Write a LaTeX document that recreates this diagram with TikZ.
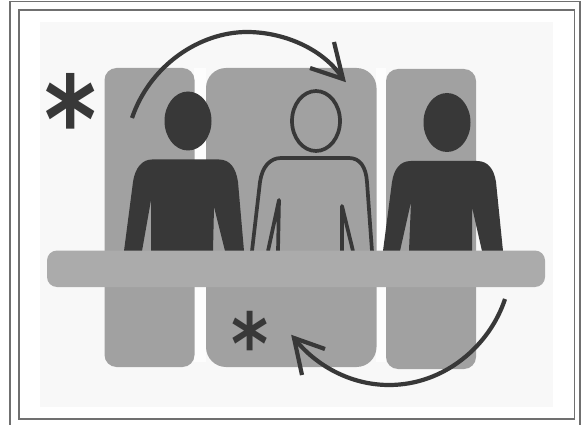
\documentclass[tikz,border=0pt]{standalone}
\usepackage{fontspec}
\newfontfamily\astfont{DejaVu Sans Bold}
\definecolor{ink}{HTML}{383838}
\definecolor{panel}{HTML}{A1A1A1}
\definecolor{tabletop}{HTML}{ABABAB}
\definecolor{paper}{HTML}{F8F8F8}
\definecolor{gapc}{HTML}{FDFDFD}
\definecolor{framec}{HTML}{707070}
\tikzset{
  framebox/.style={draw=framec,line width=1.5pt},
  panelbox/.style={fill=panel},
  solidfig/.style={fill=ink},
  hollowfig/.style={draw=ink,line width=3.7pt,line join=round},
  turnarrow/.style={draw=ink,line width=4.2pt,line join=miter},
  starlabel/.style={text=ink,inner sep=0pt,font=\astfont,yscale=1.2}
}
\begin{document}
\begin{tikzpicture}[x=1pt,y=-1pt]
\useasboundingbox (0,0) rectangle (584,425);
\fill[white] (0,0) rectangle (584,425);
% frames
\draw[framebox] (10,425) -- (10,1.5) -- (580,1.5) -- (580,425);
\draw[framebox] (19,10) rectangle (574.5,419);
% ground
\fill[paper] (40,22) rectangle (553,407);
\fill[gapc] (194,68) rectangle (206,362);
\fill[gapc] (376,68) rectangle (386,362);
% panels
\fill[panelbox,rounded corners=12pt] (104.5,68) rectangle (194.5,367);
\fill[panelbox,rounded corners=20pt] (206,68) rectangle (376.5,367);
\fill[panelbox,rounded corners=12pt] (386,69) rectangle (476,369);
% heads
\fill[solidfig] (188,121) ellipse [x radius=23.5,y radius=29.5];
\draw[hollowfig] (316,121) ellipse [x radius=24,y radius=30];
\fill[solidfig] (447,122.5) ellipse [x radius=23.5,y radius=29.5];
% left body
\fill[solidfig] (124,251) -- (133,182) .. controls (135,168) and (142,159.5) .. (152,159.5)
  -- (219,159.5) .. controls (230,159.5) and (236,168) .. (238,182)
  -- (244,251) -- (225,251) -- (214,207) -- (213,251) -- (151,251) -- (151,200) -- (142,251) -- cycle;
% middle body
\draw[hollowfig] (252,251) -- (260,182) .. controls (262,167) and (270,158) .. (281,158)
  -- (349,158) .. controls (360,158) and (366,167) .. (367,182) -- (372,251);
\draw[hollowfig] (268,251) -- (279,200) -- (278,251);
\draw[hollowfig] (353,251) -- (342,206) -- (342,251);
% right body
\fill[solidfig] (383,251) -- (392,182) .. controls (394,169) and (400,161) .. (411,161)
  -- (477,161) .. controls (488,161) and (494,169) .. (496,182)
  -- (503,251) -- (482,251) -- (472,207) -- (472,251) -- (409,251) -- (411,202) -- (400,251) -- cycle;
% table
\fill[tabletop,rounded corners=10pt] (47,250.5) rectangle (545,287);
% asterisks
\node[starlabel] (bigstar) at (71,118) {\fontsize{100}{100}\selectfont *};
\node[starlabel] (smallstar) at (250,343) {\fontsize{71}{71}\selectfont *};
% arrows
\coordinate (topstart) at (132,118);
\coordinate (toptip) at (343,79);
\coordinate (botstart) at (505,299);
\coordinate (bottip) at (294,338);
\draw[turnarrow] (topstart) .. controls (150,65) and (200,32) .. (247,32)
  .. controls (285,32) and (325,50) .. (toptip);
\draw[turnarrow] (334,42) -- (toptip) -- (310,68);
\draw[turnarrow] (botstart) .. controls (490,345) and (445,385) .. (389,385)
  .. controls (350,385) and (315,365) .. (bottip);
\draw[turnarrow] (302,375) -- (bottip) -- (325,349);
\end{tikzpicture}
\end{document}
